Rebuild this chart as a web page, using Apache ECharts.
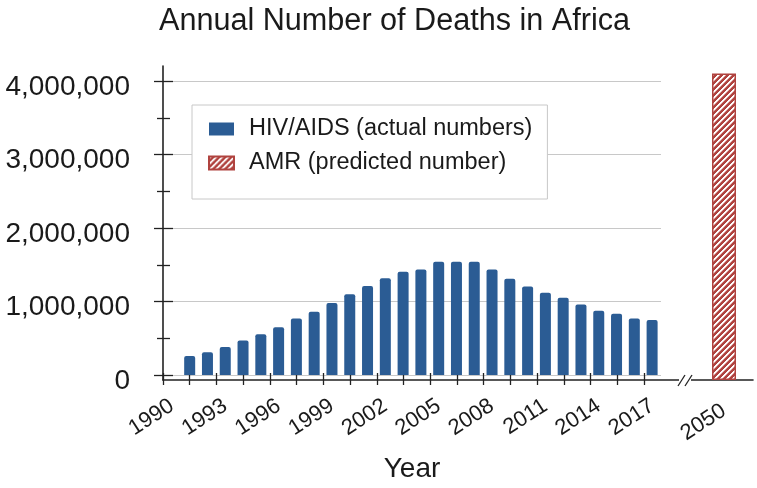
<!DOCTYPE html>
<html><head><meta charset="utf-8">
<script src="https://cdn.jsdelivr.net/npm/echarts@6/dist/echarts.min.js"></script>
<style>html,body{margin:0;padding:0;background:#fff}#c{width:757px;height:488px}</style>
</head><body><div id="c"></div>
<script>
const years = ['1990','1991','1992','1993','1994','1995','1996','1997','1998','1999','2000','2001','2002','2003','2004','2005','2006','2007','2008','2009','2010','2011','2012','2013','2014','2015','2016','2017'];
const hivDeaths = [null, 260000, 310000, 380000, 470000, 555000, 650000, 770000, 860000, 980000, 1100000, 1210000, 1315000, 1405000, 1435000, 1540000, 1540000, 1540000, 1435000, 1310000, 1205000, 1120000, 1050000, 960000, 875000, 835000, 770000, 750000];
const amrYears = ['2050'];
const amrDeaths = [4100000];
const seriesNames = ['HIV/AIDS (actual numbers)', 'AMR (predicted number)'];

const FONT = 'Liberation Sans, Arial, sans-serif';
const TXT = '#1a1a1a';
const AX = '#222';
const BLUE = '#2B5C94';
const RED = '#B0433F';

function stripes() {
  const s = 6;
  const c = document.createElement('canvas');
  c.width = s; c.height = s;
  const g = c.getContext('2d');
  for (let y = 0; y < s; y++) {
    for (let x = 0; x < s; x++) {
      const d = (x + y) % s;
      g.fillStyle = d < 2 ? '#ffffff' : (d === 2 ? '#dca4a2' : RED);
      g.fillRect(x, y, 1, 1);
    }
  }
  return c;
}

const chart = echarts.init(document.getElementById('c'), null, {renderer: 'canvas'});
const hidden = {axisLine: {show: false}, axisTick: {show: false}, axisLabel: {show: false}, splitLine: {show: false}};
const option = {
  animation: false,
  backgroundColor: '#fff',
  title: {
    text: 'Annual Number of Deaths in Africa', left: 154, top: 1,
    textStyle: {fontFamily: FONT, fontSize: 30.6, fontWeight: 'normal', color: TXT}
  },
  legend: {
    orient: 'vertical', left: 192, top: 105,
    padding: [12, 15, 24, 16], itemGap: 10, itemWidth: 25, itemHeight: 13,
    backgroundColor: '#fff', borderColor: '#c8c8c8', borderWidth: 1,
    icon: 'rect',
    textStyle: {fontFamily: FONT, fontSize: 23.5, color: TXT, padding: [0, 0, 0, 10]},
    data: seriesNames
  },
  grid: [
    {left: 163, right: 96, top: 81, bottom: 108},
    {left: 163, right: 113, top: 81, bottom: 108},
    {left: 163, right: 4, top: 66, bottom: 108},
    {left: 700, right: 9, top: 66, bottom: 108}
  ],
  xAxis: [
    {gridIndex: 0, type: 'category', data: years, position: 'bottom',
     axisLine: {show: false}, axisTick: {show: false}, splitLine: {show: false},
     axisLabel: {interval: 2, rotate: 33, margin: 29, fontSize: 22, fontFamily: FONT, color: TXT},
     name: 'Year', nameLocation: 'middle', nameGap: 80,
     nameTextStyle: {fontFamily: FONT, fontSize: 28, color: TXT}},
    {gridIndex: 1, type: 'value', min: 0, max: 27, interval: 1.5, position: 'bottom',
     axisLine: {show: false, onZero: false}, axisLabel: {show: false}, splitLine: {show: false},
     axisTick: {show: true, inside: true, length: 7, lineStyle: {color: AX, width: 1.3}}},
    {gridIndex: 1, type: 'value', min: 0, max: 27, interval: 1.5, position: 'bottom',
     axisLine: {show: false, onZero: false}, axisLabel: {show: false}, splitLine: {show: false},
     axisTick: {show: true, inside: false, length: 5, lineStyle: {color: AX, width: 1.3}}},
    {gridIndex: 2, type: 'value', min: 0, max: 1, position: 'bottom',
     axisLine: {show: true, onZero: false, lineStyle: {color: AX, width: 1.6}},
     axisTick: {show: false}, axisLabel: {show: false}, splitLine: {show: false}},
    {gridIndex: 3, type: 'category', data: amrYears, position: 'bottom',
     axisLine: {show: false}, axisTick: {show: false}, splitLine: {show: false},
     axisLabel: {rotate: 33, margin: 29, fontSize: 22, fontFamily: FONT, color: TXT}}
  ],
  yAxis: [
    {gridIndex: 0, type: 'value', min: 0, max: 4000000, interval: 1000000, position: 'left',
     axisLine: {show: false},
     axisTick: {show: true, length: 9, lineStyle: {color: AX, width: 1.3}},
     minorTick: {show: true, splitNumber: 2, length: 6, lineStyle: {color: AX, width: 1.3}},
     minorSplitLine: {show: false},
     axisLabel: {margin: 33, fontSize: 28, fontFamily: FONT, color: TXT,
                 verticalAlign: 'top', lineHeight: 12,
                 formatter: v => v.toLocaleString('en-US')},
     splitLine: {show: true, lineStyle: {color: '#c8c8c8', width: 1}}},
    {gridIndex: 0, type: 'value', min: 0, max: 4000000, interval: 1000000, position: 'left',
     axisLine: {show: false}, axisLabel: {show: false}, splitLine: {show: false},
     axisTick: {show: true, inside: true, length: 10, lineStyle: {color: AX, width: 1.3}},
     minorTick: {show: true, splitNumber: 2, length: 7, lineStyle: {color: AX, width: 1.3}}},
    Object.assign({gridIndex: 1, type: 'value', min: 0, max: 1, position: 'left'}, hidden),
    {gridIndex: 2, type: 'value', min: 0, max: 1, position: 'left',
     axisLine: {show: true, onZero: false, lineStyle: {color: AX, width: 1.6}},
     axisTick: {show: false}, axisLabel: {show: false}, splitLine: {show: false}},
    Object.assign({gridIndex: 3, type: 'value', min: 0, max: 4200000, position: 'left'}, hidden)
  ],
  series: [
    {name: seriesNames[0], type: 'bar', xAxisIndex: 0, yAxisIndex: 0, data: hivDeaths,
     barWidth: 11, itemStyle: {color: BLUE, borderRadius: [2, 2, 0, 0]}},
    {name: seriesNames[1], type: 'bar', xAxisIndex: 4, yAxisIndex: 4, data: amrDeaths,
     barWidth: 24, itemStyle: {color: {image: stripes(), repeat: 'repeat'}, borderColor: RED, borderWidth: 1.5}}
  ],
  graphic: [
    {type: 'rect', z: 100, shape: {x: 679, y: 377, width: 12, height: 6}, style: {fill: '#fff'}},
    {type: 'line', z: 101, shape: {x1: 678, y1: 386, x2: 685, y2: 375}, style: {stroke: AX, lineWidth: 1.3}},
    {type: 'line', z: 101, shape: {x1: 685, y1: 386, x2: 692, y2: 375}, style: {stroke: AX, lineWidth: 1.3}}
  ]
};
chart.setOption(option);
</script>
</body></html>
